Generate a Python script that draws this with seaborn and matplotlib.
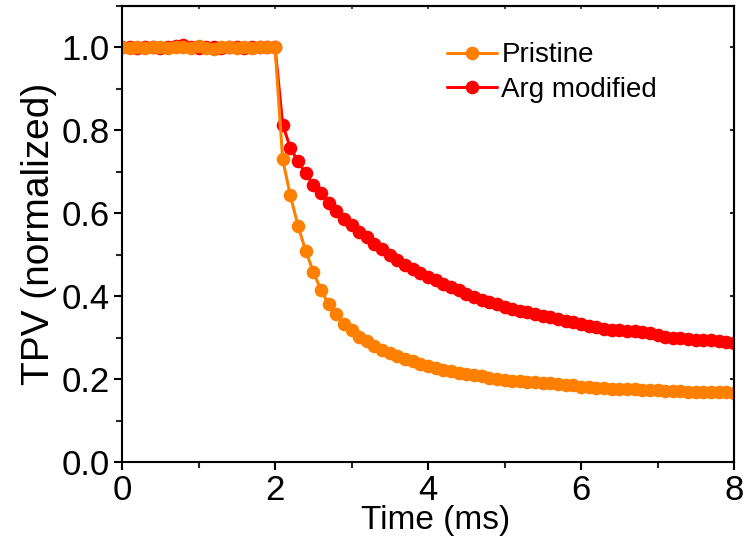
import matplotlib
matplotlib.use("Agg")
import matplotlib.pyplot as plt
import seaborn as sns
import pandas as pd
from matplotlib.ticker import MultipleLocator

time_ms = [0.0, 0.1, 0.2, 0.3, 0.4, 0.5, 0.6, 0.7, 0.8, 0.9,
           1.0, 1.1, 1.2, 1.3, 1.4, 1.5, 1.6, 1.7, 1.8, 1.9,
           2.0, 2.1, 2.2, 2.3, 2.4, 2.5, 2.6, 2.7, 2.8, 2.9,
           3.0, 3.1, 3.2, 3.3, 3.4, 3.5, 3.6, 3.7, 3.8, 3.9,
           4.0, 4.1, 4.2, 4.3, 4.4, 4.5, 4.6, 4.7, 4.8, 4.9,
           5.0, 5.1, 5.2, 5.3, 5.4, 5.5, 5.6, 5.7, 5.8, 5.9,
           6.0, 6.1, 6.2, 6.3, 6.4, 6.5, 6.6, 6.7, 6.8, 6.9,
           7.0, 7.1, 7.2, 7.3, 7.4, 7.5, 7.6, 7.7, 7.8, 7.9,
           8.0]

pristine = [1.000, 0.998, 1.001, 0.999, 1.000, 1.002, 0.998, 1.000, 1.001, 0.999,
            1.003, 0.999, 0.997, 1.000, 1.002, 0.999, 1.001, 0.998, 1.000, 1.001,
            1.000, 0.730, 0.643, 0.570, 0.510, 0.459, 0.415, 0.381, 0.357, 0.332,
            0.318, 0.302, 0.292, 0.279, 0.271, 0.263, 0.256, 0.249, 0.243, 0.237,
            0.232, 0.227, 0.223, 0.219, 0.215, 0.212, 0.209, 0.207, 0.203, 0.201,
            0.199, 0.196, 0.195, 0.193, 0.193, 0.191, 0.190, 0.188, 0.186, 0.186,
            0.182, 0.181, 0.179, 0.179, 0.177, 0.177, 0.175, 0.175, 0.174, 0.174,
            0.173, 0.172, 0.171, 0.171, 0.170, 0.170, 0.169, 0.169, 0.168, 0.168,
            0.167]

arg_modified = [1.000, 1.001, 0.999, 1.000, 1.002, 0.999, 1.000, 1.003, 1.005, 1.000,
                0.999, 1.001, 1.000, 0.998, 1.001, 1.000, 0.999, 1.002, 1.000, 1.001,
                1.000, 0.814, 0.758, 0.725, 0.697, 0.669, 0.649, 0.625, 0.606, 0.586,
                0.571, 0.556, 0.543, 0.527, 0.513, 0.500, 0.488, 0.476, 0.466, 0.456,
                0.446, 0.438, 0.430, 0.421, 0.414, 0.406, 0.398, 0.391, 0.386, 0.381,
                0.375, 0.369, 0.365, 0.361, 0.357, 0.353, 0.349, 0.345, 0.341, 0.338,
                0.334, 0.329, 0.325, 0.322, 0.319, 0.318, 0.316, 0.316, 0.314, 0.311,
                0.306, 0.302, 0.300, 0.298, 0.296, 0.294, 0.294, 0.294, 0.291, 0.289,
                0.287]

series_names = ["Pristine", "Arg modified"]
series_colors = ["#FF8000", "#FF0000"]
x_ticks = [0, 2, 4, 6, 8]
y_ticks = [0.0, 0.2, 0.4, 0.6, 0.8, 1.0]

df = pd.concat([
    pd.DataFrame({"Time": time_ms, "TPV": pristine, "Sample": series_names[0]}),
    pd.DataFrame({"Time": time_ms, "TPV": arg_modified, "Sample": series_names[1]}),
], ignore_index=True)

sns.set_style("ticks")
plt.rcParams["font.family"] = ["Liberation Sans", "DejaVu Sans"]
plt.rcParams["text.color"] = "black"
plt.rcParams["axes.labelcolor"] = "black"

fig = plt.figure(figsize=(7.5, 5.47), dpi=100)
ax = fig.add_axes([0.1627, 0.1554, 0.8160, 0.8336])

# draw red first so that orange lies on top
for name, color in [(series_names[1], series_colors[1]), (series_names[0], series_colors[0])]:
    sns.lineplot(data=df[df["Sample"] == name], x="Time", y="TPV", ax=ax,
                 color=color, marker="o", markersize=9.8, markeredgewidth=0,
                 linewidth=2.2, label=name, sort=False, errorbar=None)

ax.set_xlim(0, 8)
ax.set_ylim(0, 1.1)
ax.set_xticks(x_ticks)
ax.set_xticklabels([f"{v:d}" for v in x_ticks])
ax.set_yticks(y_ticks)
ax.set_yticklabels([f"{v:.1f}" for v in y_ticks])
ax.xaxis.set_minor_locator(MultipleLocator(1))
ax.yaxis.set_minor_locator(MultipleLocator(0.1))

for s in ax.spines.values():
    s.set_linewidth(1.5)
    s.set_color("black")
    s.set_visible(True)

ax.tick_params(axis="both", which="major", labelsize=25, length=6, width=1.5,
               direction="out", colors="black", pad=3)
ax.tick_params(axis="both", which="minor", length=4, width=1.5, direction="out")

# inward ticks on top and right
sec_y = ax.secondary_yaxis("right")
sec_y.set_yticks(y_ticks)
sec_y.tick_params(direction="in", length=3, width=1.5, labelright=False)
sec_y.spines["right"].set_linewidth(1.5)
sec_x = ax.secondary_xaxis("top")
sec_x.set_xticks(x_ticks)
sec_x.xaxis.set_minor_locator(MultipleLocator(1))
sec_x.tick_params(which="both", direction="in", length=2, width=1.2, labeltop=False)
sec_x.spines["top"].set_linewidth(1.5)

ax.set_xlabel("Time (ms)", fontsize=24, labelpad=-2)
ax.xaxis.label.set_x(0.513)
ax.set_ylabel("TPV (normalized)", fontsize=28, labelpad=3)

handles, labels = ax.get_legend_handles_labels()
order = [labels.index(n) for n in series_names]
ax.legend([handles[i] for i in order], [labels[i] for i in order],
          loc="upper right", bbox_to_anchor=(0.915, 0.975), frameon=False,
          fontsize=20, handlelength=1.8, handletextpad=0.15, labelspacing=0.3)

fig.savefig("out.png", dpi=100)
